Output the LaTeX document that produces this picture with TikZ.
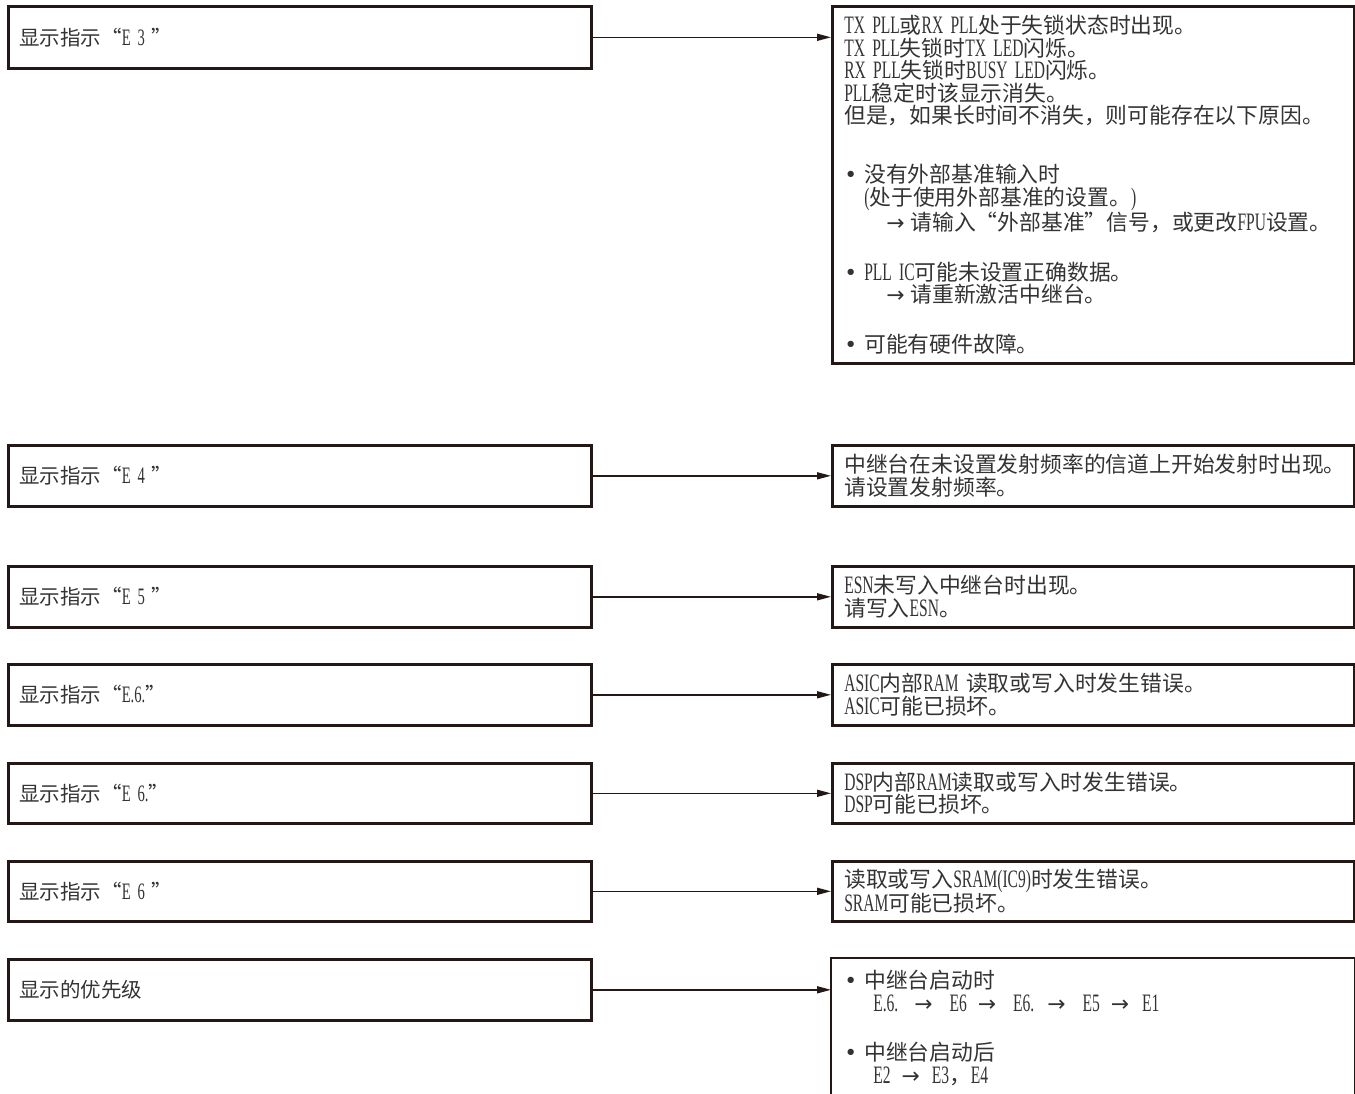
\documentclass[tikz,border=0pt]{standalone}
\usepackage{fontspec}
\setmainfont{Noto Sans CJK SC}
\newfontfamily\latfont[FakeStretch=0.62,Scale=1.15,WordSpace=3]{Liberation Serif}
\newfontfamily\dvfont{DejaVu Sans}
\newcommand\EN[1]{{\latfont #1}}
\newcommand\bul{\makebox[20pt][l]{\dvfont •}}
\newcommand\rarr{{\dvfont →}}
\newcommand\ind[1]{\makebox[#1]{}}
\usetikzlibrary{arrows.meta}
\definecolor{ink}{HTML}{231815}
\definecolor{txt}{HTML}{333333}
\begin{document}
\begin{tikzpicture}[x=1pt,y=-1pt,
  lbox/.style={draw=ink, line width=2.6pt, anchor=north west, minimum width=583pt,
    inner xsep=11pt, inner ysep=0pt, text width=561pt, align=left,
    font=\fontsize{20.5}{23}\selectfont, text=txt},
  rbox/.style={draw=ink, line width=2.6pt, anchor=north west, minimum width=522pt,
    inner xsep=12pt, inner ysep=0pt, text width=498pt, align=left,
    font=\fontsize{21.8}{22.5}\selectfont, text=txt},
  frame/.style={draw=ink, line width=2.6pt},
  arr/.style={draw=ink, line width=1.5pt, -{Triangle[length=14pt,width=7pt]}}]
\useasboundingbox (0,0) rectangle (1355,1093);
\clip (0,0) rectangle (1355,1093);
% left boxes
\node[lbox, minimum height=62pt] (l1) at (7,5)   {显示指示“\EN{E 3 }”};
\node[lbox, minimum height=61pt] (l2) at (7,444) {显示指示“\EN{E 4 }”};
\node[lbox, minimum height=61pt] (l3) at (7,565) {显示指示“\EN{E 5 }”};
\node[lbox, minimum height=61pt] (l4) at (7,663) {显示指示“\EN{E.6.}”};
\node[lbox, minimum height=60pt] (l5) at (7,762) {显示指示“\EN{E 6.}”};
\node[lbox, minimum height=60pt] (l6) at (7,860) {显示指示“\EN{E 6 }”};
\node[lbox, minimum height=61pt] (l7) at (7,958) {显示的优先级};
% right boxes
\node[rbox, minimum height=357pt] (r1) at (831,5) {%
\EN{TX PLL}或\EN{RX PLL}处于失锁状态时出现。\\
\EN{TX PLL}失锁时\EN{TX LED}闪烁。\\
\EN{RX PLL}失锁时\EN{BUSY LED}闪烁。\\
\EN{PLL}稳定时该显示消失。\\
但是，如果长时间不消失，则可能存在以下原因。\\[36.5pt]
\bul 没有外部基准输入时\\
\ind{20pt}\EN{(}处于使用外部基准的设置。\EN{)}\\
\ind{42pt}\rarr\hspace{6pt}请输入“外部基准”信号，或更改\EN{FPU}设置。\\[27.5pt]
\bul\EN{PLL IC}可能未设置正确数据。\\
\ind{42pt}\rarr\hspace{6pt}请重新激活中继台。\\[27.5pt]
\bul 可能有硬件故障。};
\node[rbox, minimum height=61pt] (r2) at (831,444) {%
中继台在未设置发射频率的信道上开始发射时出现。\\
请设置发射频率。};
\node[rbox, minimum height=61pt] (r3) at (831,565) {%
\EN{ESN}未写入中继台时出现。\\
请写入\EN{ESN}。};
\node[rbox, minimum height=61pt] (r4) at (831,663) {%
\EN{ASIC}内部\EN{RAM }读取或写入时发生错误。\\
\EN{ASIC}可能已损坏。};
\node[rbox, minimum height=60pt] (r5) at (831,762) {%
\EN{DSP}内部\EN{RAM}读取或写入时发生错误。\\
\EN{DSP}可能已损坏。};
\node[rbox, minimum height=60pt] (r6) at (831,860) {%
读取或写入\EN{SRAM(IC9)}时发生错误。\\
\EN{SRAM}可能已损坏。};
\node[rbox, draw=none, minimum height=137pt] (r7) at (831,958) {%
\bul 中继台启动时\\
\ind{29pt}\EN{E.6.}\hspace{16pt}\rarr\hspace{17pt}\EN{E6}\hspace{11pt}\rarr\hspace{17pt}\EN{E6.}\hspace{13pt}\rarr\hspace{17pt}\EN{E5}\hspace{11pt}\rarr\hspace{13pt}\EN{E1}\\[27pt]
\bul 中继台启动后\\
\ind{29pt}\EN{E2}\hspace{11pt}\rarr\hspace{12pt}\EN{E3}，\EN{E4}};
\coordinate (bot) at (0,1110);
\draw[frame] (r7.north west |- bot) -- (r7.north west) -- (r7.north east) -- (r7.north east |- bot);
% connectors
\foreach \i in {1,...,7} {
  \draw[arr] (l\i.east) -- (l\i.east -| r\i.west);
}
\end{tikzpicture}
\end{document}
